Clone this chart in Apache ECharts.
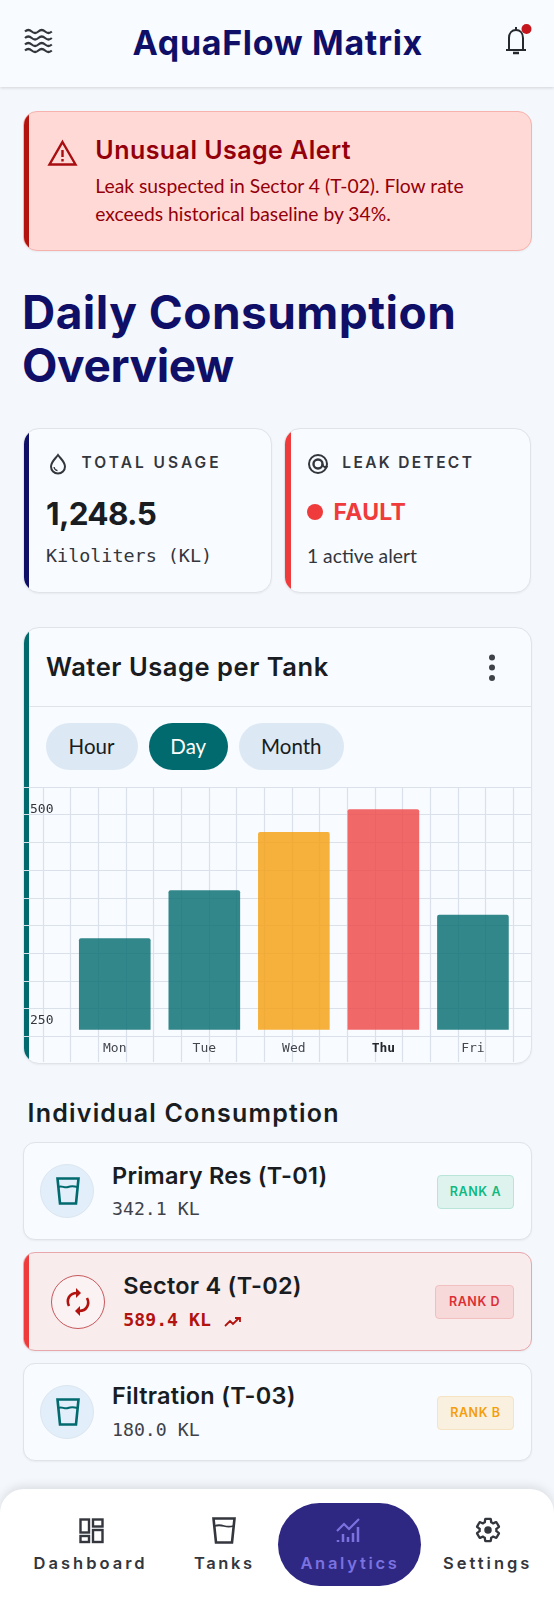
<!DOCTYPE html>
<html>
<head>
<meta charset="utf-8">
<script src="https://cdn.jsdelivr.net/npm/echarts@6/dist/echarts.min.js"></script>
<style>
html,body{margin:0;padding:0;background:#f4f7fb;width:554px;height:1600px;overflow:hidden;font-family:Lato,sans-serif;color:#191c20}
.t{position:absolute;white-space:nowrap;transform:translateY(-50%);line-height:1}
.h{font-family:Inter,sans-serif;font-weight:700}
.m{font-family:"DejaVu Sans Mono",monospace}
.box{position:absolute;box-sizing:border-box;background:#f8fbff;border:1px solid #e0e3e8;box-shadow:0 1px 2px rgba(0,0,0,.05);overflow:hidden}
.bar{position:absolute;left:0;top:0;bottom:0;width:5.5px}
.pill{position:absolute;top:723px;height:47px;border-radius:24px;background:#dce8f4;font-size:20.5px;line-height:47px;text-align:center;color:#191c20}
.badge{position:absolute;box-sizing:border-box;height:34px;border-radius:4px;font:600 12.5px/32px Inter,sans-serif;letter-spacing:.6px;text-align:center;border:1px solid}
.circle{position:absolute;box-sizing:border-box;width:54px;height:54px;border-radius:50%}
.name{font-size:23.5px;font-weight:600;letter-spacing:.25px;color:#191c20}
.lab{font-size:15.5px;font-weight:600;color:#33363c}
svg{position:absolute;overflow:visible}
#chart{position:absolute;left:0;top:159px;width:507px;height:275px}
.nav{font-family:Inter,sans-serif;font-weight:600;font-size:16.5px;letter-spacing:3px;color:#33363c}
</style>
</head>
<body>
<!-- header -->
<div style="position:absolute;left:0;top:0;width:554px;height:87px;background:#f8fbff;box-shadow:0 1px 3px rgba(0,0,0,.14)"></div>
<svg style="left:25px;top:29px" width="27" height="23" fill="none" stroke="#33363c" stroke-width="2.200">
  <path d="M0 2.500q3.300-3 6.700 0t6.700 0 6.700 0 6.700 0"/><path d="M0 9q3.300-3 6.700 0t6.700 0 6.700 0 6.700 0"/><path d="M0 15.500q3.300-3 6.700 0t6.700 0 6.700 0 6.700 0"/><path d="M0 21.500q3.300-3 6.700 0t6.700 0 6.700 0 6.700 0"/>
</svg>
<div class="t h" style="left:132.600px;top:43px;font-size:34px;letter-spacing:.67px;color:#0f0f68">AquaFlow Matrix</div>
<svg style="left:505px;top:25px" width="24" height="30" fill="none" stroke="#25282d" stroke-width="2">
  <path d="M1 25h20M4 25V13c0-5 3-8 7-8s7 3 7 8v12"/><path d="M11 2v3"/><path d="M8 28h6" stroke-width="2.500"/>
  <circle cx="21.500" cy="4" r="5" fill="#c4161c" stroke="none"/>
</svg>

<!-- alert -->
<div class="box" style="left:22.500px;top:111px;width:509px;height:140px;border-radius:14px;background:#ffd9d6;border-color:#f6b3ae">
  <div class="bar" style="background:#b3130f"></div>
</div>
<svg style="left:48px;top:140px" width="29" height="26" fill="none" stroke="#a80d10" stroke-width="2.400">
  <path d="M14.500 2 L27.500 24.500 H1.500 Z"/><path d="M14.500 10v7M14.500 19v2.500"/>
</svg>
<div class="t h" style="left:95.300px;top:150px;font-size:25px;font-weight:600;letter-spacing:.45px;color:#93000a">Unusual Usage Alert</div>
<div class="t" style="left:95.300px;top:186px;font-size:19.300px;color:#93000a">Leak suspected in Sector 4 (T-02). Flow rate</div>
<div class="t" style="left:95.300px;top:214px;font-size:19.300px;color:#93000a">exceeds historical baseline by 34%.</div>

<!-- page title -->
<div class="t h" style="left:22px;top:312px;font-size:46px;letter-spacing:.47px;color:#0f0f68">Daily Consumption</div>
<div class="t h" style="left:22px;top:365px;font-size:46px;letter-spacing:-.4px;color:#0f0f68">Overview</div>

<!-- stat cards -->
<div class="box" style="left:22.500px;top:428px;width:249px;height:165px;border-radius:16px"><div class="bar" style="background:#0f0f68"></div></div>
<svg style="left:49px;top:453px" width="18" height="22" fill="none" stroke="#33363c" stroke-width="2">
  <path d="M9 2c3 4 7 7 7 11.500a7 7 0 0 1-14 0C2 9 6 6 9 2z"/><path d="M5 14c.3 2 1.500 3.300 3.500 3.700" stroke-width="1.300"/>
</svg>
<div class="t h lab" style="left:81.600px;top:463px;letter-spacing:3px">TOTAL USAGE</div>
<div class="t h" style="left:46px;top:514px;font-size:31.500px;letter-spacing:-.7px;color:#191c20">1,248.5</div>
<div class="t m" style="left:46px;top:556px;font-size:18.400px;color:#33363c">Kiloliters (KL)</div>

<div class="box" style="left:284.300px;top:428px;width:247.200px;height:165px;border-radius:16px"><div class="bar" style="background:#ef3b3b"></div></div>
<svg style="left:307px;top:453px" width="22" height="22" fill="none" stroke="#33363c" stroke-width="2">
  <circle cx="11" cy="11" r="9"/><circle cx="11" cy="11" r="4.500" stroke-width="2.400"/><path d="M15.500 11c0 3 3 4 5 2"/>
</svg>
<div class="t h lab" style="left:342.300px;top:463px;letter-spacing:2.350px">LEAK DETECT</div>
<div style="position:absolute;left:306.700px;top:504px;width:16px;height:16px;border-radius:50%;background:#ef3b3b"></div>
<div class="t h" style="left:333.500px;top:512px;font-size:23px;letter-spacing:.3px;color:#ef3b3b">FAULT</div>
<div class="t" style="left:307px;top:556px;font-size:19.300px;color:#33363c">1 active alert</div>

<!-- chart card -->
<div class="box" style="left:22.500px;top:627px;width:509px;height:437px;border-radius:16px">
  <div class="bar" style="background:#006a6e"></div>
  <div style="position:absolute;left:5px;right:0;top:78px;height:1px;background:#e0e3e8"></div>
  <div id="chart"></div>
</div>
<div class="t h" style="left:46px;top:667px;font-size:25.500px;font-weight:600;letter-spacing:.55px;color:#191c20">Water Usage per Tank</div>
<svg style="left:487.500px;top:654px" width="8" height="28" fill="#3f4248"><circle cx="4" cy="3.500" r="3"/><circle cx="4" cy="13.500" r="3"/><circle cx="4" cy="24" r="3"/></svg>
<div class="pill" style="left:45.500px;width:92px">Hour</div>
<div class="pill" style="left:149px;width:78.500px;background:#006a6e;color:#fff">Day</div>
<div class="pill" style="left:238.800px;width:105px">Month</div>

<!-- individual list -->
<div class="t h" style="left:27.600px;top:1113px;font-size:25px;font-weight:600;letter-spacing:1.200px;color:#191c20">Individual Consumption</div>

<div class="box" style="left:22.500px;top:1142px;width:509px;height:98px;border-radius:12px"></div>
<div class="circle" style="left:40.300px;top:1164px;background:#e2eef9;border:1px solid #dbe6f0"></div>
<svg style="left:55.500px;top:1177px" width="24" height="28" fill="none" stroke="#006a6e" stroke-width="2.600">
  <path d="M1.500 1.500h21l-2.500 25H4z"/><path d="M2.500 10c3-2 6 1.500 9.500 0s6-1 9.500 0" stroke-width="2"/>
</svg>
<div class="t h name" style="left:112px;top:1176px">Primary Res (T-01)</div>
<div class="t m" style="left:112px;top:1209px;font-size:18.200px;color:#3f4248">342.1 KL</div>
<div class="badge" style="left:437px;top:1175px;width:76.800px;background:#dff3ee;border-color:#b9e4d8;color:#10b981">RANK A</div>

<div class="box" style="left:22.500px;top:1252px;width:509px;height:99px;border-radius:12px;background:#f8eced;border-color:#e8a7aa"><div class="bar" style="background:#ef3b3b"></div></div>
<div class="circle" style="left:51.200px;top:1275px;background:#faf2f3;border:1px solid #c8585c"></div>
<svg style="left:66.400px;top:1287px" width="24" height="30" fill="none" stroke="#b3130f" stroke-width="2.600">
  <path d="M3 19c-3-6 0-13 8-13"/><path d="M10 1l5 5-5 5z" fill="#b3130f" stroke="none"/><path d="M21 11c3 6 0 13-8 13"/><path d="M14 19l-5 5 5 5z" fill="#b3130f" stroke="none"/>
</svg>
<div class="t h name" style="left:123.300px;top:1286px">Sector 4 (T-02)</div>
<div class="t m" style="left:123.300px;top:1320px;font-size:18.200px;font-weight:700;color:#b3130f">589.4 KL</div>
<svg style="left:224.700px;top:1317px" width="16" height="10" fill="none" stroke="#b3130f" stroke-width="1.800"><path d="M0 9l5-5 3 3 6-6M10 1h5v4"/></svg>
<div class="badge" style="left:435.300px;top:1285px;width:78.500px;background:#f8d9da;border-color:#f2bfc0;color:#dc2f35">RANK D</div>

<div class="box" style="left:22.500px;top:1363px;width:509px;height:98px;border-radius:12px"></div>
<div class="circle" style="left:40.300px;top:1385px;background:#e2eef9;border:1px solid #dbe6f0"></div>
<svg style="left:55.500px;top:1398px" width="24" height="28" fill="none" stroke="#006a6e" stroke-width="2.600">
  <path d="M1.500 1.500h21l-2.500 25H4z"/><path d="M2.500 10c3-2 6 1.500 9.500 0s6-1 9.500 0" stroke-width="2"/>
</svg>
<div class="t h name" style="left:112px;top:1396px">Filtration (T-03)</div>
<div class="t m" style="left:112px;top:1430px;font-size:18.200px;color:#3f4248">180.0 KL</div>
<div class="badge" style="left:437px;top:1396px;width:76.800px;background:#f9f0e0;border-color:#f6e3c1;color:#f59e0b">RANK B</div>

<!-- bottom nav -->
<div style="position:absolute;left:0;top:1489px;width:554px;height:111px;background:#fff;border-radius:24px 24px 0 0;box-shadow:0 -3px 10px rgba(0,0,0,.1)"></div>
<div style="position:absolute;left:278px;top:1503px;width:143px;height:83px;border-radius:42px;background:#2e2882"></div>
<svg style="left:79px;top:1518px" width="25" height="25" fill="none" stroke="#33363c" stroke-width="2.400">
  <rect x="1.500" y="1.500" width="8.500" height="13"/><rect x="14" y="1.500" width="9.500" height="7"/><rect x="14" y="12" width="9.500" height="12"/><rect x="1.500" y="18" width="8.500" height="6"/>
</svg>
<div class="t nav" style="left:33.600px;top:1563px">Dashboard</div>
<svg style="left:212px;top:1517px" width="25" height="27" fill="none" stroke="#33363c" stroke-width="2.600">
  <path d="M1.500 1.500h21l-2.500 24H4z"/><path d="M2.500 9c3-1 6-1 9.500 0s6 1 9.500 0" stroke-width="1.800"/>
</svg>
<div class="t nav" style="left:194px;top:1563px;letter-spacing:2.600px">Tanks</div>
<svg style="left:336px;top:1518px" width="26" height="25" fill="none" stroke="#7b72e0" stroke-width="2.500">
  <path d="M2 24v-2M7 24v-8M12 24v-5M17 24v-9M22 24V9"/><path d="M1 13l7-7 5 5 10-10" stroke-width="2.200"/>
</svg>
<div class="t nav" style="left:300.400px;top:1563px;color:#7b72e0;letter-spacing:2.700px">Analytics</div>
<svg style="left:473.500px;top:1516px" width="28" height="28" viewBox="0 0 24 24" fill="none" stroke="#33363c" stroke-width="2">
  <path d="M19.140 12.940c.04-.3.06-.61.06-.94 0-.32-.02-.64-.07-.94l2.030-1.580c.18-.14.23-.41.12-.61l-1.920-3.320c-.12-.22-.37-.29-.59-.22l-2.390.96c-.5-.38-1.030-.7-1.620-.94l-.36-2.540c-.04-.24-.24-.41-.48-.41h-3.840c-.24 0-.43.17-.47.41l-.36 2.540c-.59.24-1.130.57-1.620.94l-2.390-.96c-.22-.08-.47 0-.59.22L2.740 8.870c-.12.21-.08.47.12.61l2.030 1.580c-.05.3-.09.63-.09.94s.02.64.07.94l-2.030 1.580c-.18.14-.23.41-.12.61l1.920 3.320c.12.22.37.29.59.22l2.390-.96c.5.38 1.030.7 1.620.94l.36 2.540c.05.24.24.41.48.41h3.840c.24 0 .44-.17.47-.41l.36-2.540c.59-.24 1.130-.56 1.620-.94l2.390.96c.22.08.47 0 .59-.22l1.920-3.320c.12-.22.07-.47-.12-.61l-2.010-1.580z"/>
  <circle cx="12" cy="12" r="3.200" fill="#33363c" stroke="none"/>
</svg>
<div class="t nav" style="left:443px;top:1563px">Settings</div>

<script>
const days = ['Mon', 'Tue', 'Wed', 'Thu', 'Fri']
const usage = [348, 405, 474, 501, 376]
const yTicks = [250, 500]

// amber and red days stand out, the rest are teal
const teal = 'rgba(0,106,110,0.8)'
const dayColors = { Wed: 'rgba(245,158,11,0.8)', Thu: 'rgba(239,68,68,0.8)' }
const gridLine = { show: true, lineStyle: { color: '#dbe1ea', width: 1.2 } }
const hidden = { show: false }

const myChart = echarts.init(document.getElementById('chart'))
myChart.setOption({
    animation: false,
    grid: [
        { left: 46, width: 447.7, top: 0, height: 242.7 },
        // background lattice: one grid for the columns, one for the rows
        { left: 19.1, width: 470, top: 0, bottom: 0 },
        { left: 0, right: 0, top: 0, height: 249.3 }
    ],
    xAxis: [
        {
            type: 'category',
            data: days,
            gridIndex: 0,
            axisLine: hidden,
            axisTick: hidden,
            axisLabel: {
                margin: 12,
                formatter: d => d === 'Thu' ? '{b|' + d + '}' : d,
                fontFamily: 'DejaVu Sans Mono',
                fontSize: 13,
                color: '#44474e',
                rich: { b: { fontFamily: 'DejaVu Sans Mono', fontSize: 13, fontWeight: 'bold', color: '#25282d' } }
            }
        },
        { type: 'value', gridIndex: 1, min: 0, max: 17, interval: 1, axisLine: hidden, axisTick: hidden, axisLabel: hidden, splitLine: gridLine },
        { type: 'value', gridIndex: 2, min: 0, max: 1, axisLine: hidden, axisTick: hidden, axisLabel: hidden, splitLine: hidden }
    ],
    yAxis: [
        {
            type: 'value',
            gridIndex: 0,
            min: 239.7,
            max: 527.3,
            axisLine: hidden,
            axisTick: hidden,
            splitLine: hidden,
            axisLabel: {
                customValues: yTicks,
                margin: 16.5,
                fontFamily: 'DejaVu Sans Mono',
                fontSize: 13,
                color: '#33363c'
            }
        },
        { type: 'value', gridIndex: 1, min: 0, max: 1, axisLine: hidden, axisTick: hidden, axisLabel: hidden, splitLine: hidden },
        { type: 'value', gridIndex: 2, min: 0, max: 9, interval: 1, axisLine: hidden, axisTick: hidden, axisLabel: hidden, splitLine: gridLine }
    ],
    series: [
        {
            type: 'bar',
            xAxisIndex: 0,
            yAxisIndex: 0,
            barWidth: '80%',
            data: usage.map((v, i) => ({
                value: v,
                itemStyle: { color: dayColors[days[i]] || teal, borderRadius: [2, 2, 0, 0] }
            }))
        }
    ]
})
</script>
</body>
</html>
